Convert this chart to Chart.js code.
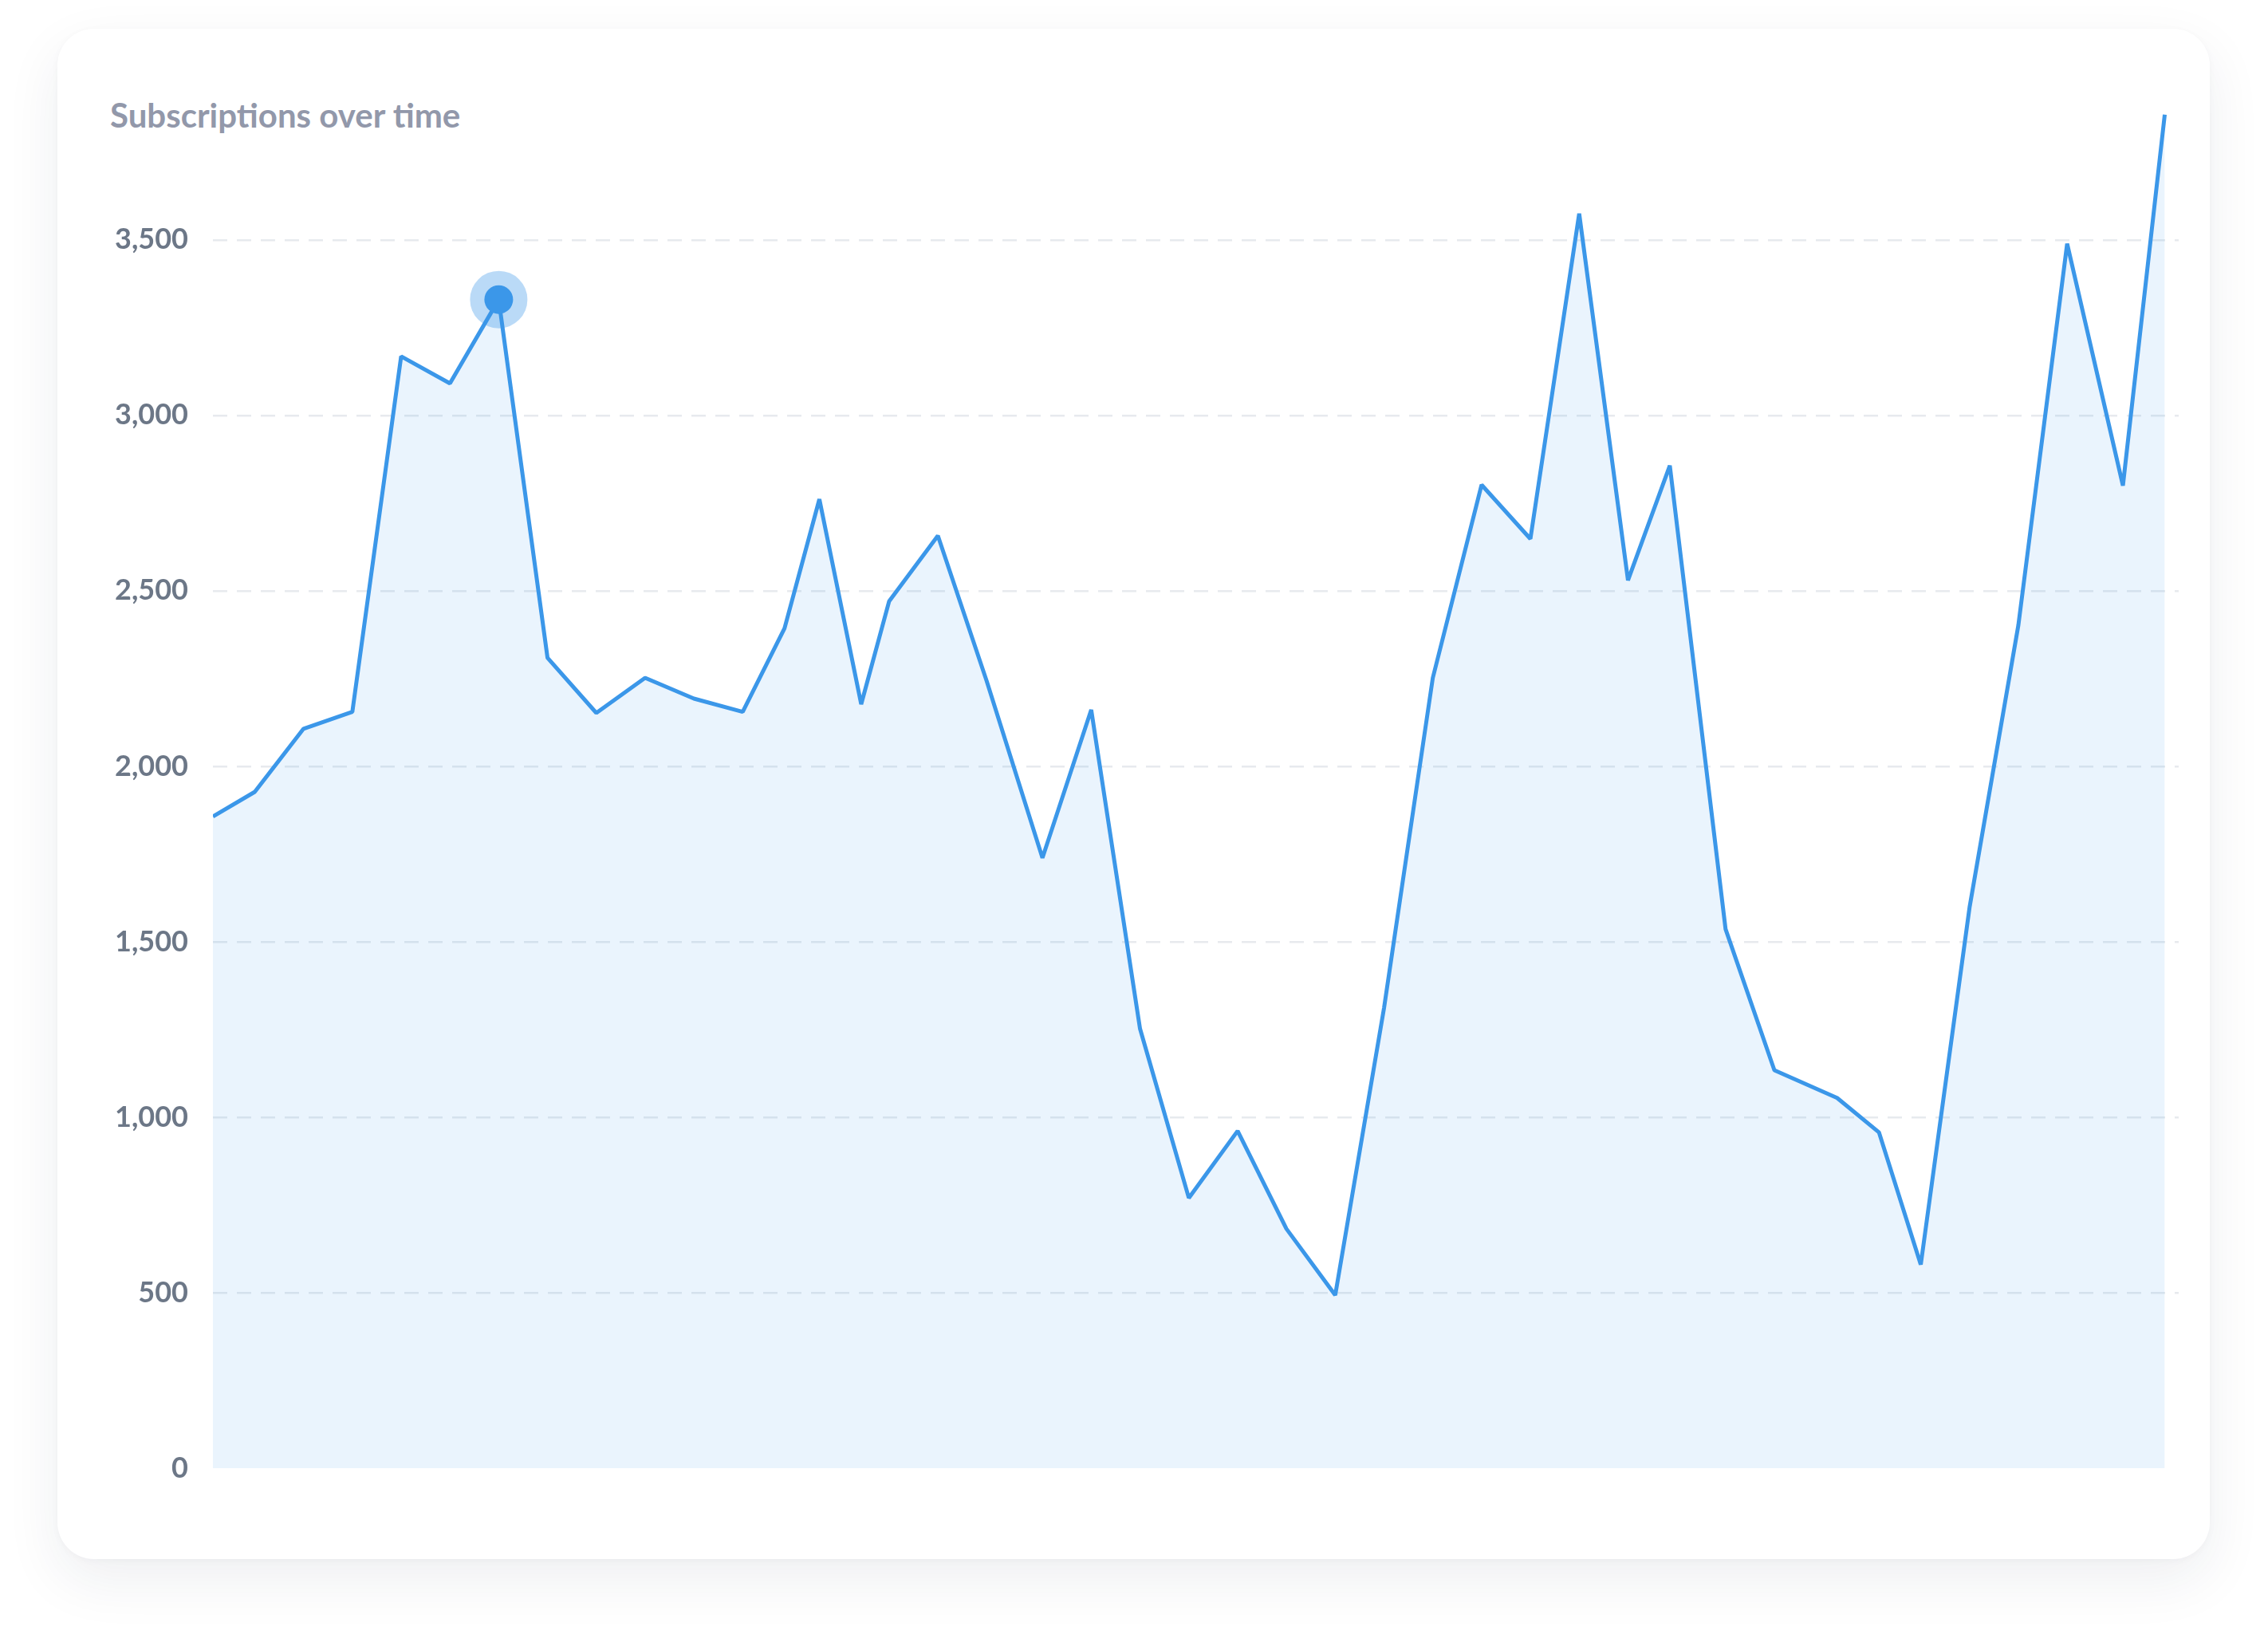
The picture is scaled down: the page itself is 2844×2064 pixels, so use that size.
<!DOCTYPE html>
<html>
<head>
<meta charset="utf-8">
<title>Subscriptions over time</title>
<script src="https://cdn.jsdelivr.net/npm/chart.js@4.4.1/dist/chart.umd.min.js"></script>
<style>
  html, body { margin: 0; padding: 0; background: #ffffff; }
  body { width: 2844px; height: 2064px; position: relative; overflow: hidden; font-family: 'Lato', sans-serif; }
  .card {
    position: absolute; left: 72px; top: 36px; width: 2699px; height: 1919px;
    background: #ffffff; border-radius: 46px;
    box-shadow: 0 26px 70px rgba(30, 40, 70, 0.075), 0 2px 10px rgba(30, 40, 70, 0.03);
  }
  .title {
    position: absolute; left: 138px; top: 123px;
    font: 700 42px/42px 'Lato', sans-serif; color: #9298aa; white-space: nowrap;
  }
  .chart-wrap { position: absolute; left: 0; top: 0; width: 2844px; height: 2064px; }
</style>
</head>
<body>
<div class="card"></div>
<div class="title">Subscriptions over time</div>
<div class="chart-wrap"><canvas id="subsChart"></canvas></div>

<script>
/* ── DATA ─────────────────────────────────────────────────── */
// day offset of each sample (roughly weekly)
const days = [0, 6, 13, 20, 27, 34, 41, 48, 55, 62,
  69, 76, 82, 87, 93, 97, 104, 111, 119, 126,
  133, 140, 147, 154, 161, 168, 175, 182, 189, 196,
  203, 209, 217, 224, 233, 239, 245, 252, 259, 266,
  274, 280];

const subscriptions = [1857, 1927, 2107, 2155, 3168, 3091, 3330, 2309, 2152, 2252,
  2193, 2155, 2393, 2761, 2177, 2470, 2657, 2243, 1739, 2161,
  1252, 770, 961, 682, 493, 1311, 2252, 2802, 2648, 3575,
  2530, 2857, 1536, 1134, 1055, 957, 580, 1598, 2402, 3489,
  2800, 3857];

const yTicks = [0, 500, 1000, 1500, 2000, 2500, 3000, 3500];
const highlightIndex = 6;

/* ── CHART ────────────────────────────────────────────────── */
const lineColor = '#3b97e9';
const points = days.map((d, i) => ({ x: d, y: subscriptions[i] }));
const highlight = [points[highlightIndex]];

new Chart(document.getElementById('subsChart'), {
  type: 'line',
  data: {
    datasets: [
      {
        label: 'Subscriptions',
        data: points,
        borderColor: lineColor,
        backgroundColor: 'rgba(58,150,232,0.105)',
        borderWidth: 5,
        borderJoinStyle: 'bevel',
        pointRadius: 0,
        pointHoverRadius: 0,
        fill: 'origin',
        tension: 0,
        order: 3
      },
      {
        label: 'halo',
        data: highlight,
        showLine: false,
        pointRadius: 36,
        pointHoverRadius: 36,
        pointBorderWidth: 0,
        pointBackgroundColor: 'rgba(58,150,232,0.35)',
        order: 2
      },
      {
        label: 'dot',
        data: highlight,
        showLine: false,
        pointRadius: 18,
        pointHoverRadius: 18,
        pointBorderWidth: 0,
        pointBackgroundColor: lineColor,
        order: 1
      }
    ]
  },
  options: {
    responsive: true,
    maintainAspectRatio: false,
    animation: false,
    locale: 'en-US',
    layout: { padding: { left: 100, top: 138, right: 112, bottom: 223 } },
    plugins: {
      legend: { display: false },
      tooltip: { enabled: false }
    },
    events: [],
    scales: {
      x: {
        type: 'linear',
        min: 0,
        max: 282,
        display: false
      },
      y: {
        min: 0,
        max: 3870,
        afterFit: scale => { scale.width = 167; },
        afterBuildTicks: scale => { scale.ticks = yTicks.map(v => ({ value: v })); },
        border: { display: false, dash: [18, 12] },
        grid: {
          drawTicks: false,
          lineWidth: 2.5,
          borderDash: [18, 12],
          color: ctx => (ctx.tick && ctx.tick.value === 0) ? 'rgba(0,0,0,0)' : '#e7eaee'
        },
        ticks: {
          padding: 31,
          color: '#6c7787',
          font: { family: 'Lato', size: 36, weight: 'bold' },
          callback: val => val.toLocaleString('en-US')
        }
      }
    }
  }
});
</script>
</body>
</html>
